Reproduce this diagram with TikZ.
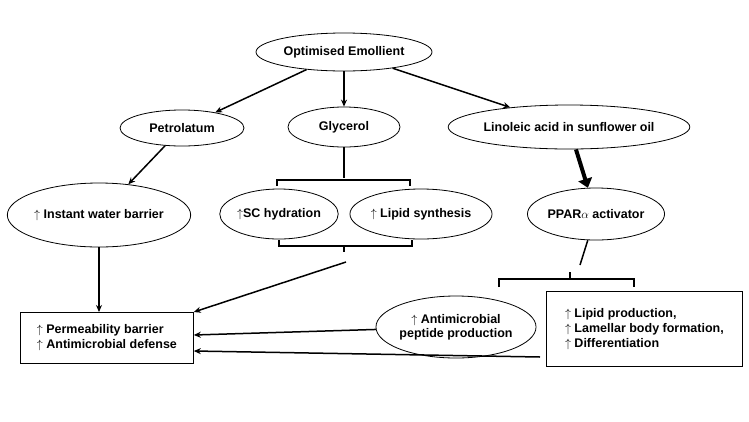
\documentclass[tikz,border=0pt]{standalone}
\usepackage{fontspec}
\setmainfont{Liberation Sans}
\usetikzlibrary{shapes.geometric,arrows.meta}
\begin{document}
\begin{tikzpicture}[x=1pt,y=-1pt,
  el/.style={ellipse,draw,line width=0.8pt,inner sep=0pt,font=\bfseries\fontsize{12.5}{14}\selectfont,align=center},
  bx/.style={draw,line width=0.8pt,font=\bfseries\fontsize{12.5}{15}\selectfont,align=left,anchor=north west,inner sep=4pt},
  ar/.style={line width=1.5pt,-{Stealth[length=7pt,width=6pt]}},
  ln/.style={line width=1.5pt}]
\useasboundingbox (0,0) rectangle (749,421);
\node[el,minimum width=176,minimum height=38] (opt) at (344,52) {Optimised Emollient};
\node[el,minimum width=124,minimum height=36] (pet) at (182,128) {Petrolatum};
\node[el,minimum width=112,minimum height=40] (gly) at (344,127) {Glycerol};
\node[el,minimum width=228,minimum height=44] (lin) at (569,127) {Linoleic acid in sunflower oil};
\node[el,minimum width=158,minimum height=64] (iwb) at (99,215) {$\uparrow$ Instant water barrier};
\node[el,minimum width=108,minimum height=50] (sch) at (279,214) {$\uparrow$SC hydration};
\node[el,minimum width=136,minimum height=50] (lip) at (421,214) {$\uparrow$ Lipid synthesis};
\node[el,minimum width=122,minimum height=52] (ppar) at (596,214) {PPAR$\alpha$ activator};
\node[bx,minimum width=173,minimum height=51] (perm) at (20,312) {$\uparrow$ Permeability barrier\\$\uparrow$ Antimicrobial defense};
\node[el,minimum width=152,minimum height=62] (amp) at (456,327) {$\uparrow$ Antimicrobial\\peptide production};
\node[bx,minimum width=196,minimum height=75] (lpb) at (546,291) {$\uparrow$ Lipid production,\\$\uparrow$ Lamellar body formation,\\$\uparrow$ Differentiation};
\draw[ar] (opt) -- (pet);
\draw[ar] (opt) -- (gly);
\draw[ar] (opt) -- (lin);
\draw[ar] (pet) -- (iwb);
\draw[line width=4pt,-{Triangle[length=9pt,width=14pt]}] (lin) -- (ppar);
\draw[ar] (iwb) -- (perm.north -| iwb);
% glycerol brackets
\coordinate (gb) at (344,150);
\draw[ln] (gly) -- (344,178);
\draw[ln] (277,186) -- (277,180) -- (410,180) -- (410,186);
\draw[ln] (279,240) -- (279,246) -- (412,246) -- (412,240);
\draw[ln] (344,246) -- (344,252);
\coordinate (gl) at (346,262);
\draw[ar] (gl) -- (perm.north east);
% PPAR bracket
\coordinate (pp) at (580,265);
\draw[ln] (ppar) -- (pp);
\draw[ln] (499,287) -- (499,279) -- (634,279) -- (634,287);
\draw[ln] (570,279) -- (570,272);
\draw[ar] (amp) -- (perm.east |- 0,335);
\coordinate (lb) at (540,357);
\draw[ar] (lb) -- (perm.east |- 0,351);
\end{tikzpicture}
\end{document}
